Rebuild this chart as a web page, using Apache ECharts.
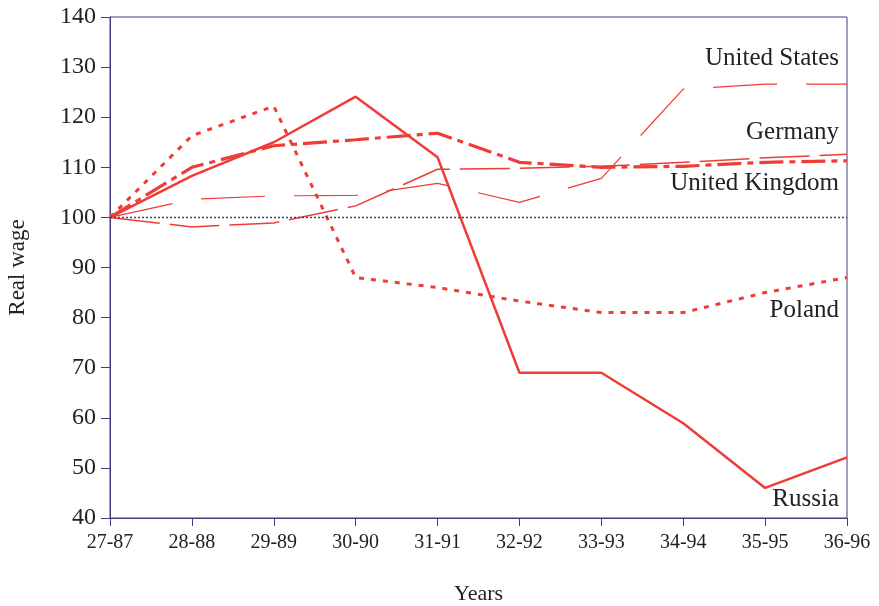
<!DOCTYPE html>
<html>
<head>
<meta charset="utf-8">
<script src="https://cdn.jsdelivr.net/npm/echarts@6/dist/echarts.min.js"></script>
<style>
html,body{margin:0;padding:0;background:#fff;}
#chart{width:879px;height:606px;}
</style>
</head>
<body>
<div id="chart"></div>
<script>
var categories = ['27-87','28-88','29-89','30-90','31-91','32-92','33-93','34-94','35-95','36-96'];
var russia = [100,108.3,115,124.1,112,69,69,58.9,46,52.1];
var poland = [100,116.3,122.2,88,86,83.3,81,81,85,88];
var germany = [100,110,114.3,115.5,116.8,111,110,110.2,111,111.3];
var unitedKingdom = [100,98.1,98.9,102.3,109.6,109.8,110.2,111,111.9,112.6];
var unitedStates = [100,103.6,104.3,104.4,106.8,103,107.8,125.6,126.6,126.6];
var yTicks = {min:40, max:140, interval:10};
var labels = [
  {name:'United States', value:131.7},
  {name:'Germany', value:117},
  {name:'United Kingdom', value:106.8},
  {name:'Poland', value:81.4},
  {name:'Russia', value:43.7}
];

var RED = '#ef3c37';
var NAVY = '#3d3d80';
var FONT = 'Liberation Serif';
var chart = echarts.init(document.getElementById('chart'));

function lineSeries(name, data, width, type) {
  return {
    name: name, type: 'line', data: data, symbol: 'none', smooth: false,
    lineStyle: {color: RED, width: width, type: type},
    z: 3
  };
}

var series = [
  lineSeries('United States', unitedStates, 1.2, [64, 29]),
  lineSeries('United Kingdom', unitedKingdom, 1.5, [50, 10]),
  lineSeries('Germany', germany, 3.2, [24, 6, 6, 6]),
  lineSeries('Poland', poland, 3, [5, 7]),
  lineSeries('Russia', russia, 2.5, 'solid')
];
series[0].markLine = {
  silent: true, symbol: 'none',
  lineStyle: {color: NAVY, width: 1.3, type: [2, 2]},
  label: {show: false},
  data: [{yAxis: 100}]
};
series.push({
  type: 'line', data: [], symbol: 'none',
  markPoint: {
    symbol: 'circle', symbolSize: 0,
    label: {show: true, position: 'left', distance: 8, color: '#222', fontFamily: FONT, fontSize: 25,
      formatter: function(p){ return p.name; }},
    data: labels.map(function(l){ return {name: l.name, coord: [categories.length - 1, l.value]}; })
  }
});

chart.setOption({
  animation: false,
  backgroundColor: '#fff',
  grid: {left: 110, right: 32, top: 17, bottom: 88, containLabel: false, outerBoundsMode: 'none',
    show: true, borderColor: NAVY, borderWidth: 1},
  xAxis: {
    type: 'category', data: categories, boundaryGap: false,
    name: 'Years', nameLocation: 'middle', nameGap: 65,
    nameTextStyle: {color: '#222', fontFamily: FONT, fontSize: 22},
    axisLine: {lineStyle: {color: NAVY, width: 1}},
    axisTick: {show: true, length: 8, inside: false, alignWithLabel: true, lineStyle: {color: NAVY}},
    axisLabel: {color: '#222', fontFamily: FONT, fontSize: 20, margin: 15, interval: 0},
    splitLine: {show: false}
  },
  yAxis: {
    type: 'value', min: yTicks.min, max: yTicks.max, interval: yTicks.interval,
    name: 'Real wage', nameLocation: 'middle', nameGap: 81, nameRotate: 90,
    nameTextStyle: {color: '#222', fontFamily: FONT, fontSize: 23},
    axisLine: {show: true, lineStyle: {color: NAVY, width: 1}},
    axisTick: {show: true, length: 9, inside: false, lineStyle: {color: NAVY}},
    axisLabel: {color: '#222', fontFamily: FONT, fontSize: 24, margin: 14},
    splitLine: {show: false}
  },
  series: series
});
</script>
</body>
</html>
